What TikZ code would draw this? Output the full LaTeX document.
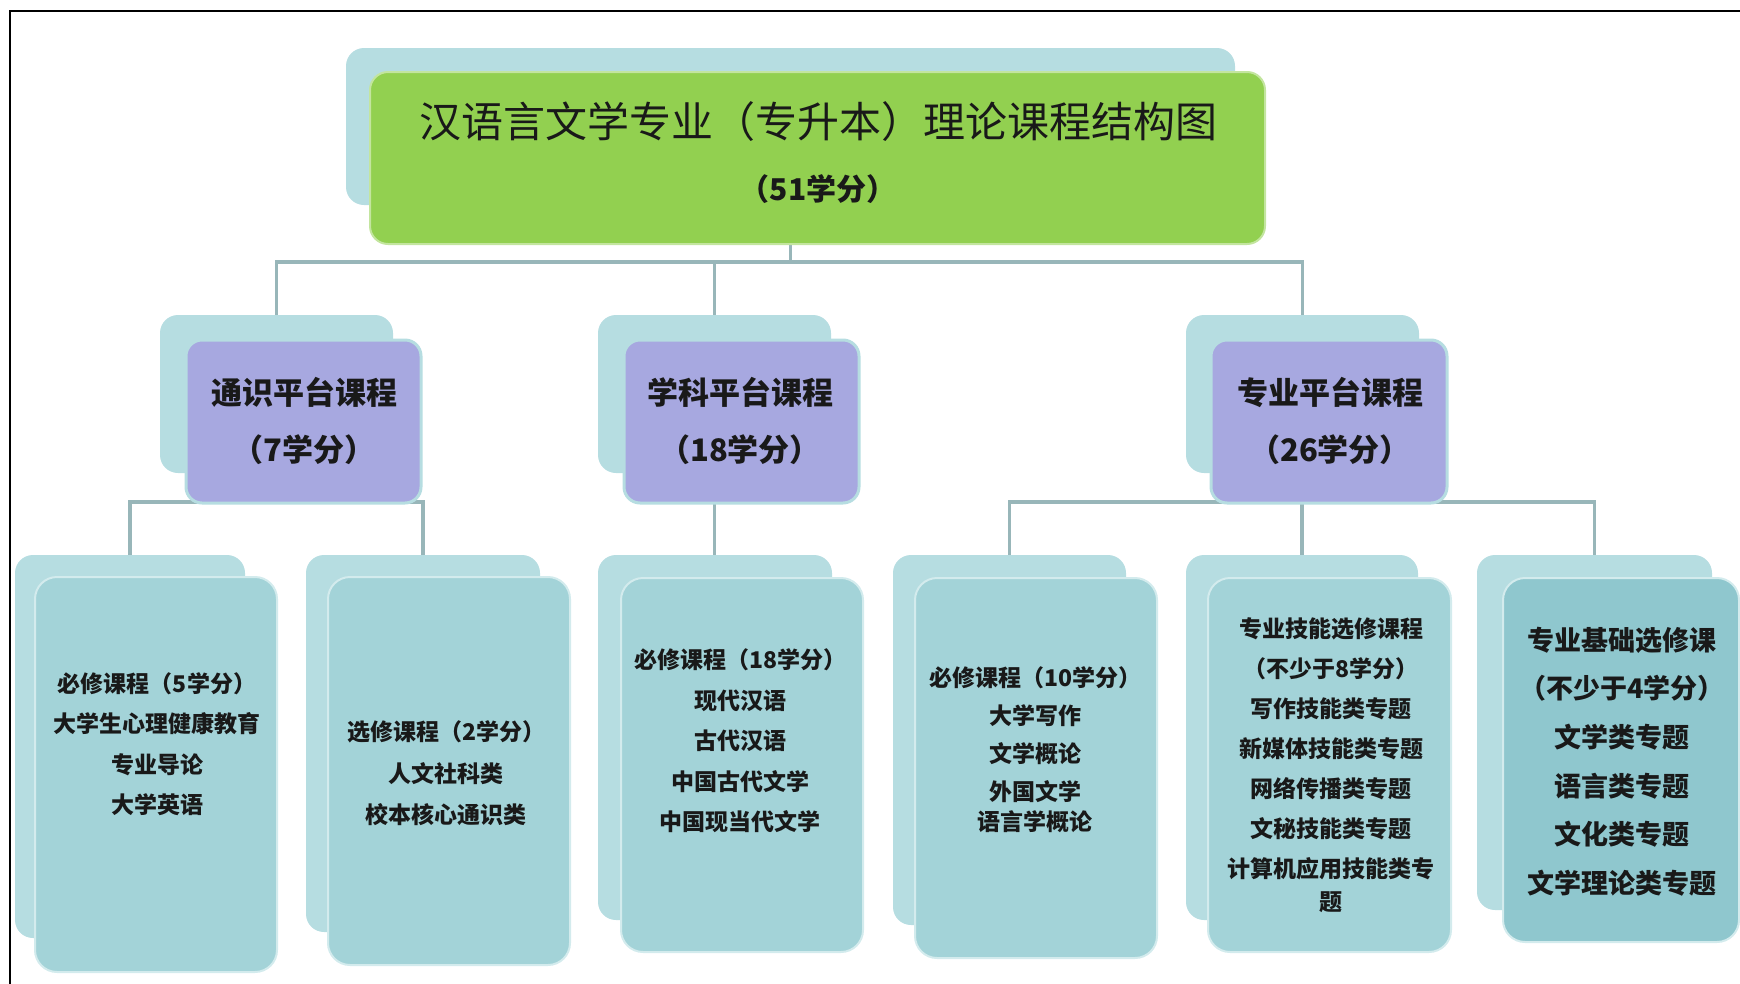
\documentclass[tikz,border=0pt]{standalone}
\usepackage{fontspec}
\newfontfamily\cjk{Noto Sans CJK SC}
\usetikzlibrary{backgrounds}
\definecolor{backteal}{HTML}{B6DDE1}
\definecolor{frontteal}{HTML}{A3D3D8}
\definecolor{deepteal}{HTML}{8FC7CE}
\definecolor{lilac}{HTML}{A7A8E0}
\definecolor{leafgreen}{HTML}{92D050}
\definecolor{linkgrey}{HTML}{98B6B9}

\begin{document}
\begin{tikzpicture}[x=1pt,y=-1pt,
  every node/.style={inner sep=0pt, outer sep=0pt, text=black!90},
  backbox/.style={fill=backteal, rounded corners=18pt},
  frontbox/.style={fill=frontteal, draw=backteal!60!white, line width=2pt, rounded corners=22pt},
  platbox/.style={fill=lilac, draw=backteal, line width=3pt, rounded corners=16pt},
  topbox/.style={fill=leafgreen, draw=leafgreen!55!white, line width=2pt, rounded corners=18pt},
  conn/.style={draw=linkgrey, line width=3.5pt},
  toptext/.style={font=\cjk\fontsize{42}{42}\selectfont},
  plattext/.style={align=center, font=\cjk\bfseries\fontsize{31}{57}\selectfont},
  lvltext/.style={align=center, font=\cjk\bfseries\fontsize{23}{40.5}\selectfont}
]
\useasboundingbox (0,0) rectangle (1740,983);
\draw[line width=2.5pt] (1745,11) -- (10,11) -- (10,990);

% title
\node[backbox, minimum width=889pt, minimum height=157pt] (tback) at (790.5,126.5) {};
\node[topbox, minimum width=895pt, minimum height=172pt] (tfront) at (817.5,158) {};
\node[toptext] (ttl) at (818,122) {汉语言文学专业（专升本）理论课程结构图};
\node[toptext, font=\cjk\bfseries\fontsize{30}{30}\selectfont] (ttlcr) at (818,189) {（51学分）};

% platforms
\node[backbox, minimum width=233pt, minimum height=158pt] (lback) at (276.5,394) {};
\node[platbox, minimum width=235pt, minimum height=163pt] (lfront) at (303.5,421.5) {};
\node[plattext] (ltxt) at (304,421) {通识平台课程\\（7学分）};

\node[backbox, minimum width=233pt, minimum height=158pt] (mback) at (714.5,394) {};
\node[platbox, minimum width=235pt, minimum height=163pt] (mfront) at (741.5,421.5) {};
\node[plattext] (mtxt) at (740,421) {学科平台课程\\（18学分）};

\node[backbox, minimum width=233pt, minimum height=158pt] (rback) at (1302.5,394) {};
\node[platbox, minimum width=236pt, minimum height=163pt] (rfront) at (1329,421.5) {};
\node[plattext] (rtxt) at (1330,421) {专业平台课程\\（26学分）};

% course groups
\node[backbox, minimum width=230pt, minimum height=383pt] (b1back) at (130,746.5) {};
\node[frontbox, minimum width=242pt, minimum height=395pt] (b1front) at (156,774.5) {};
\node[lvltext] (b1txt) at (157,744) {必修课程（5学分）\\大学生心理健康教育\\专业导论\\大学英语};

\node[backbox, minimum width=234pt, minimum height=377pt] (b2back) at (423,743.5) {};
\node[frontbox, minimum width=242pt, minimum height=388pt] (b2front) at (449,771) {};
\node[lvltext, font=\cjk\bfseries\fontsize{23}{41.5}\selectfont] (b2txt) at (446,773.5) {选修课程（2学分）\\人文社科类\\校本核心通识类};

\node[backbox, minimum width=234pt, minimum height=365pt] (b3back) at (715,737.5) {};
\node[frontbox, minimum width=242pt, minimum height=374pt] (b3front) at (742,765) {};
\node[lvltext] (b3txt) at (740,741) {必修课程（18学分）\\现代汉语\\古代汉语\\中国古代文学\\中国现当代文学};

\node[backbox, minimum width=233pt, minimum height=370pt] (b4back) at (1009.5,740) {};
\node[frontbox, minimum width=242pt, minimum height=380pt] (b4front) at (1036,768) {};
\node[lvltext, font=\cjk\bfseries\fontsize{23}{38}\selectfont] (b4txt) at (1035,749.5) {必修课程（10学分）\\大学写作\\文学概论\\外国文学\\[-8pt]语言学概论};

\node[backbox, minimum width=232pt, minimum height=365pt] (b5back) at (1302,737.5) {};
\node[frontbox, minimum width=243pt, minimum height=374pt] (b5front) at (1329.5,765) {};
\node[lvltext, font=\cjk\bfseries\fontsize{23}{40}\selectfont] (b5txt) at (1331,765.5) {专业技能选修课程\\（不少于8学分）\\写作技能类专题\\新媒体技能类专题\\网络传播类专题\\文秘技能类专题\\计算机应用技能类专\\[-7pt]题};

\node[backbox, minimum width=235pt, minimum height=355pt] (b6back) at (1594.5,732.5) {};
\node[frontbox, fill=deepteal, minimum width=236pt, minimum height=364pt] (b6front) at (1621,760) {};
\node[lvltext, font=\cjk\bfseries\fontsize{27}{48.6}\selectfont] (b6txt) at (1622,761.5) {专业基础选修课\\（不少于4学分）\\文学类专题\\语言类专题\\文化类专题\\文学理论类专题};

% connectors
\begin{scope}[on background layer]
\coordinate (bar0) at (0,262);
\coordinate (bar1) at (0,502);
\draw[conn] (tback.south) -- (tback.south |- bar0);
\draw[conn] (lback.north) -- (lback.north |- bar0) -- (rback.north |- bar0) -- (rback.north);
\draw[conn] (mback.north) -- (mback.north |- bar0);
\draw[conn] (lback.south) -- (lback.south |- bar1);
\draw[conn] (b1back.north) -- (b1back.north |- bar1) -- (b2back.north |- bar1) -- (b2back.north);
\draw[conn] (mback.south) -- (mback.south |- b3back.north);
\draw[conn] (rback.south) -- (rback.south |- bar1);
\draw[conn] (b4back.north) -- (b4back.north |- bar1) -- (b6back.north |- bar1) -- (b6back.north);
\draw[conn] (b5back.north) -- (b5back.north |- bar1);
\end{scope}
\end{tikzpicture}
\end{document}
